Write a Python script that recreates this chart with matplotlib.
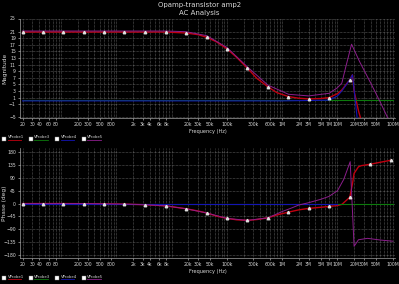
import numpy as np
import matplotlib
matplotlib.use("Agg")
import matplotlib.pyplot as plt
from matplotlib.lines import Line2D
from matplotlib.ticker import FixedLocator, NullFormatter

# ---------------- data ----------------
series_names = ["VProbe1", "VProbe3", "VProbe4", "VProbe5"]
series_colors = ["#c00010", "#0c7a0c", "#1414b4", "#8c1e8c"]

# VProbe1 (red) - magnitude and phase
f_red = [20, 47, 110, 260, 600, 1.4e3, 3.3e3, 7.8e3, 18e3, 30e3, 43e3, 65e3, 100e3,
         150e3, 235e3, 350e3, 550e3, 800e3, 1.3e6, 2e6, 3e6, 5e6, 7.1e6, 10e6, 12e6,
         16.7e6, 18.7e6, 20e6, 24e6, 27e6, 39e6, 92e6]
mag_red = [20.9, 20.9, 20.9, 20.9, 20.9, 20.9, 20.9, 20.9, 20.6, 20.1, 19.3, 17.9, 15.8,
           13.2, 9.9, 6.8, 4.3, 2.5, 1.3, 0.8, 0.6, 0.7, 1.0, 2.2, 3.3,
           6.4, 7.9, 3.0, -3.0, -6.0, -20.0, -40.0]
ph_red = [0, 0, 0, -0.5, -1, -2, -4, -8, -18, -26, -33, -44, -52,
          -57, -59, -56, -50, -40, -30, -22, -17, -13, -10, -7, -3,
          22, 70, 106, 129, 133, 138, 152]
marker_freqs = [20, 47, 110, 260, 600, 1.4e3, 3.3e3, 7.8e3, 18e3, 43e3, 100e3, 235e3,
                550e3, 1.3e6, 3e6, 7.1e6, 16.7e6, 39e6, 92e6]

# VProbe3 (green)
f_green = [20, 100e6]
mag_green = [0.3, 0.3]
ph_green = [0, 0]

# VProbe4 (blue)
f_blue = [20, 1e6, 7e6, 10e6, 12e6, 16.7e6, 18.7e6, 23e6, 30e6]
mag_blue = [0.0, 0.0, 0.2, 1.5, 3.0, 6.4, 7.9, -6.0, -20.0]
f_blue_ph = [20, 1e6, 10e6]
ph_blue = [0, 0, 0]

# VProbe5 (purple)
f_pur = [20, 1e3, 7.8e3, 18e3, 43e3, 100e3, 235e3, 550e3, 1.3e6, 3e6, 7.1e6, 10e6,
         12e6, 14e6, 18e6, 25e6, 40e6, 60e6, 83e6, 100e6]
mag_pur = [21.2, 21.2, 21.2, 21.0, 19.8, 16.2, 10.3, 4.8, 2.0, 1.5, 2.3, 4.0,
           5.4, 10.0, 17.2, 12.0, 5.4, -0.5, -5.5, -7.0]
f_pur_ph = [20, 300, 600, 1.4e3, 3.3e3, 7.8e3, 18e3, 43e3, 100e3, 235e3, 550e3, 1e6,
            1.5e6, 2e6, 3e6, 5e6, 7e6, 10e6, 13e6, 17e6, 20e6, 24e6, 35e6, 60e6, 100e6]
ph_pur = [0, 0, -1, -2, -4, -8, -18, -33, -52, -59, -50, -28,
          -15, -5, 3, 15, 25, 45, 85, 147, -150, -127, -122, -128, -132]

x_tick_vals = [20, 30, 40, 60, 80, 200, 300, 500, 800, 2e3, 3e3, 4e3, 6e3, 8e3, 20e3, 30e3,
               50e3, 100e3, 300e3, 600e3, 1e6, 2e6, 3e6, 5e6, 7e6, 10e6, 20e6, 30e6, 50e6, 100e6]
x_tick_labels = ["20", "30", "40", "60", "80", "200", "300", "500", "800", "2k", "3k", "4k",
                 "6k", "8k", "20k", "30k", "50k", "100k", "300k", "600k", "1M", "2M", "3M",
                 "5M", "7M", "10M", "20M", "30M", "50M", "100M"]
mag_ticks = [25, 21, 19, 17, 15, 13, 11, 9, 7, 5, 3, 1, -1, -5]
ph_ticks = [180, 135, 90, 45, 0, -45, -90, -135, -180]

# ---------------- figure ----------------
W, H = 399, 284
fig = plt.figure(figsize=(W / 100, H / 100), dpi=100, facecolor="black")

def fx(px):
    return px / W

def fy(py):
    return 1 - py / H

ax1 = fig.add_axes([fx(20), fy(118), fx(395 - 20), (118 - 18.5) / H])
ax2 = fig.add_axes([fx(20), fy(258), fx(395 - 20), (258 - 148) / H])

txt = "#d8d8d8"
grid_c = "#9a9a9a"

minor_grid = []
for d in range(1, 9):
    for m in range(1, 10):
        v = m * 10 ** d
        if 18 <= v <= 1.1e8:
            minor_grid.append(v)

for ax in (ax1, ax2):
    ax.set_facecolor("black")
    ax.set_xscale("log")
    ax.set_xlim(18, 1.1e8)
    ax.xaxis.set_major_locator(FixedLocator(x_tick_vals))
    ax.set_xticklabels(x_tick_labels)
    ax.xaxis.set_minor_locator(FixedLocator(minor_grid))
    ax.xaxis.set_minor_formatter(NullFormatter())
    ax.grid(True, which="both", axis="x", color=grid_c, linestyle=(0, (1, 1.5)), linewidth=0.4)
    ax.grid(True, which="major", axis="y", color=grid_c, linestyle=(0, (1, 1.5)), linewidth=0.4)
    ax.tick_params(which="both", colors=txt, labelsize=3.3, length=1.5, width=0.4, pad=1.5)
    ax.tick_params(which="minor", length=0)
    for s in ("top", "right"):
        ax.spines[s].set_visible(False)
    for s in ("left", "bottom"):
        ax.spines[s].set_color("#a0a0a0")
        ax.spines[s].set_linewidth(0.5)
    ax.set_xlabel("Frequency (Hz)", color=txt, fontsize=3.6, labelpad=1.5)

# magnitude
ax1.plot(f_red, mag_red, color=series_colors[0], lw=1.0)
ax1.plot(f_green, mag_green, color=series_colors[1], lw=0.8)
ax1.plot(f_blue, mag_blue, color=series_colors[2], lw=0.8)
ax1.plot(f_pur, mag_pur, color=series_colors[3], lw=0.7)
ax1.plot(marker_freqs, np.interp(np.log10(marker_freqs), np.log10(f_red), mag_red),
         linestyle="none", marker="^", ms=1.8, mfc="#e0e0e0", mec="#e0e0e0")
ax1.set_ylim(-5.2, 25)
ax1.set_yticks(mag_ticks)
ax1.set_ylabel("Magnitude", color=txt, fontsize=4.2)
ax1.yaxis.set_label_coords(fx(7), 0.5, transform=None)
ax1.yaxis.label.set_transform(matplotlib.transforms.blended_transform_factory(fig.transFigure, ax1.transAxes))
ax1.yaxis.label.set_position((fx(7), 0.5))

# phase
ax2.plot(f_red, ph_red, color=series_colors[0], lw=1.0)
ax2.plot(f_green, ph_green, color=series_colors[1], lw=0.8)
ax2.plot(f_blue_ph, ph_blue, color=series_colors[2], lw=0.8)
ax2.plot(f_pur_ph, ph_pur, color=series_colors[3], lw=0.7)
ax2.plot(marker_freqs, np.interp(np.log10(marker_freqs), np.log10(f_red), ph_red),
         linestyle="none", marker="^", ms=1.8, mfc="#e0e0e0", mec="#e0e0e0")
ax2.set_ylim(-191, 195)
ax2.set_yticks(ph_ticks)
ax2.set_ylabel("Phase (deg)", color=txt, fontsize=4.2)
ax2.yaxis.set_label_coords(fx(7), 0.5, transform=None)
ax2.yaxis.label.set_transform(matplotlib.transforms.blended_transform_factory(fig.transFigure, ax2.transAxes))
ax2.yaxis.label.set_position((fx(7), 0.5))

# title
fig.text(0.5, fy(4.5), "Opamp-transistor amp2", color=txt, fontsize=5, ha="center", va="center")
fig.text(0.5, fy(12.5), "AC Analysis", color=txt, fontsize=5, ha="center", va="center")

# legends
for ly in (138.5, 277.5):
    for i, (name, col) in enumerate(zip(series_names, series_colors)):
        x0 = 4 + i * 26.5
        fig.add_artist(Line2D([fx(x0)], [fy(ly)], marker="s", ms=2.2, color="white",
                              mec="#808080", mew=0.3, linestyle="none"))
        fig.text(fx(x0 + 3.5), fy(ly - 1), name, color=txt, fontsize=2.8, ha="left", va="center")
        fig.add_artist(Line2D([fx(x0 + 3.5), fx(x0 + 17)], [fy(ly + 1.8), fy(ly + 1.8)],
                              color=col, lw=0.6))

fig.savefig("out.png", dpi=100, facecolor="black")
